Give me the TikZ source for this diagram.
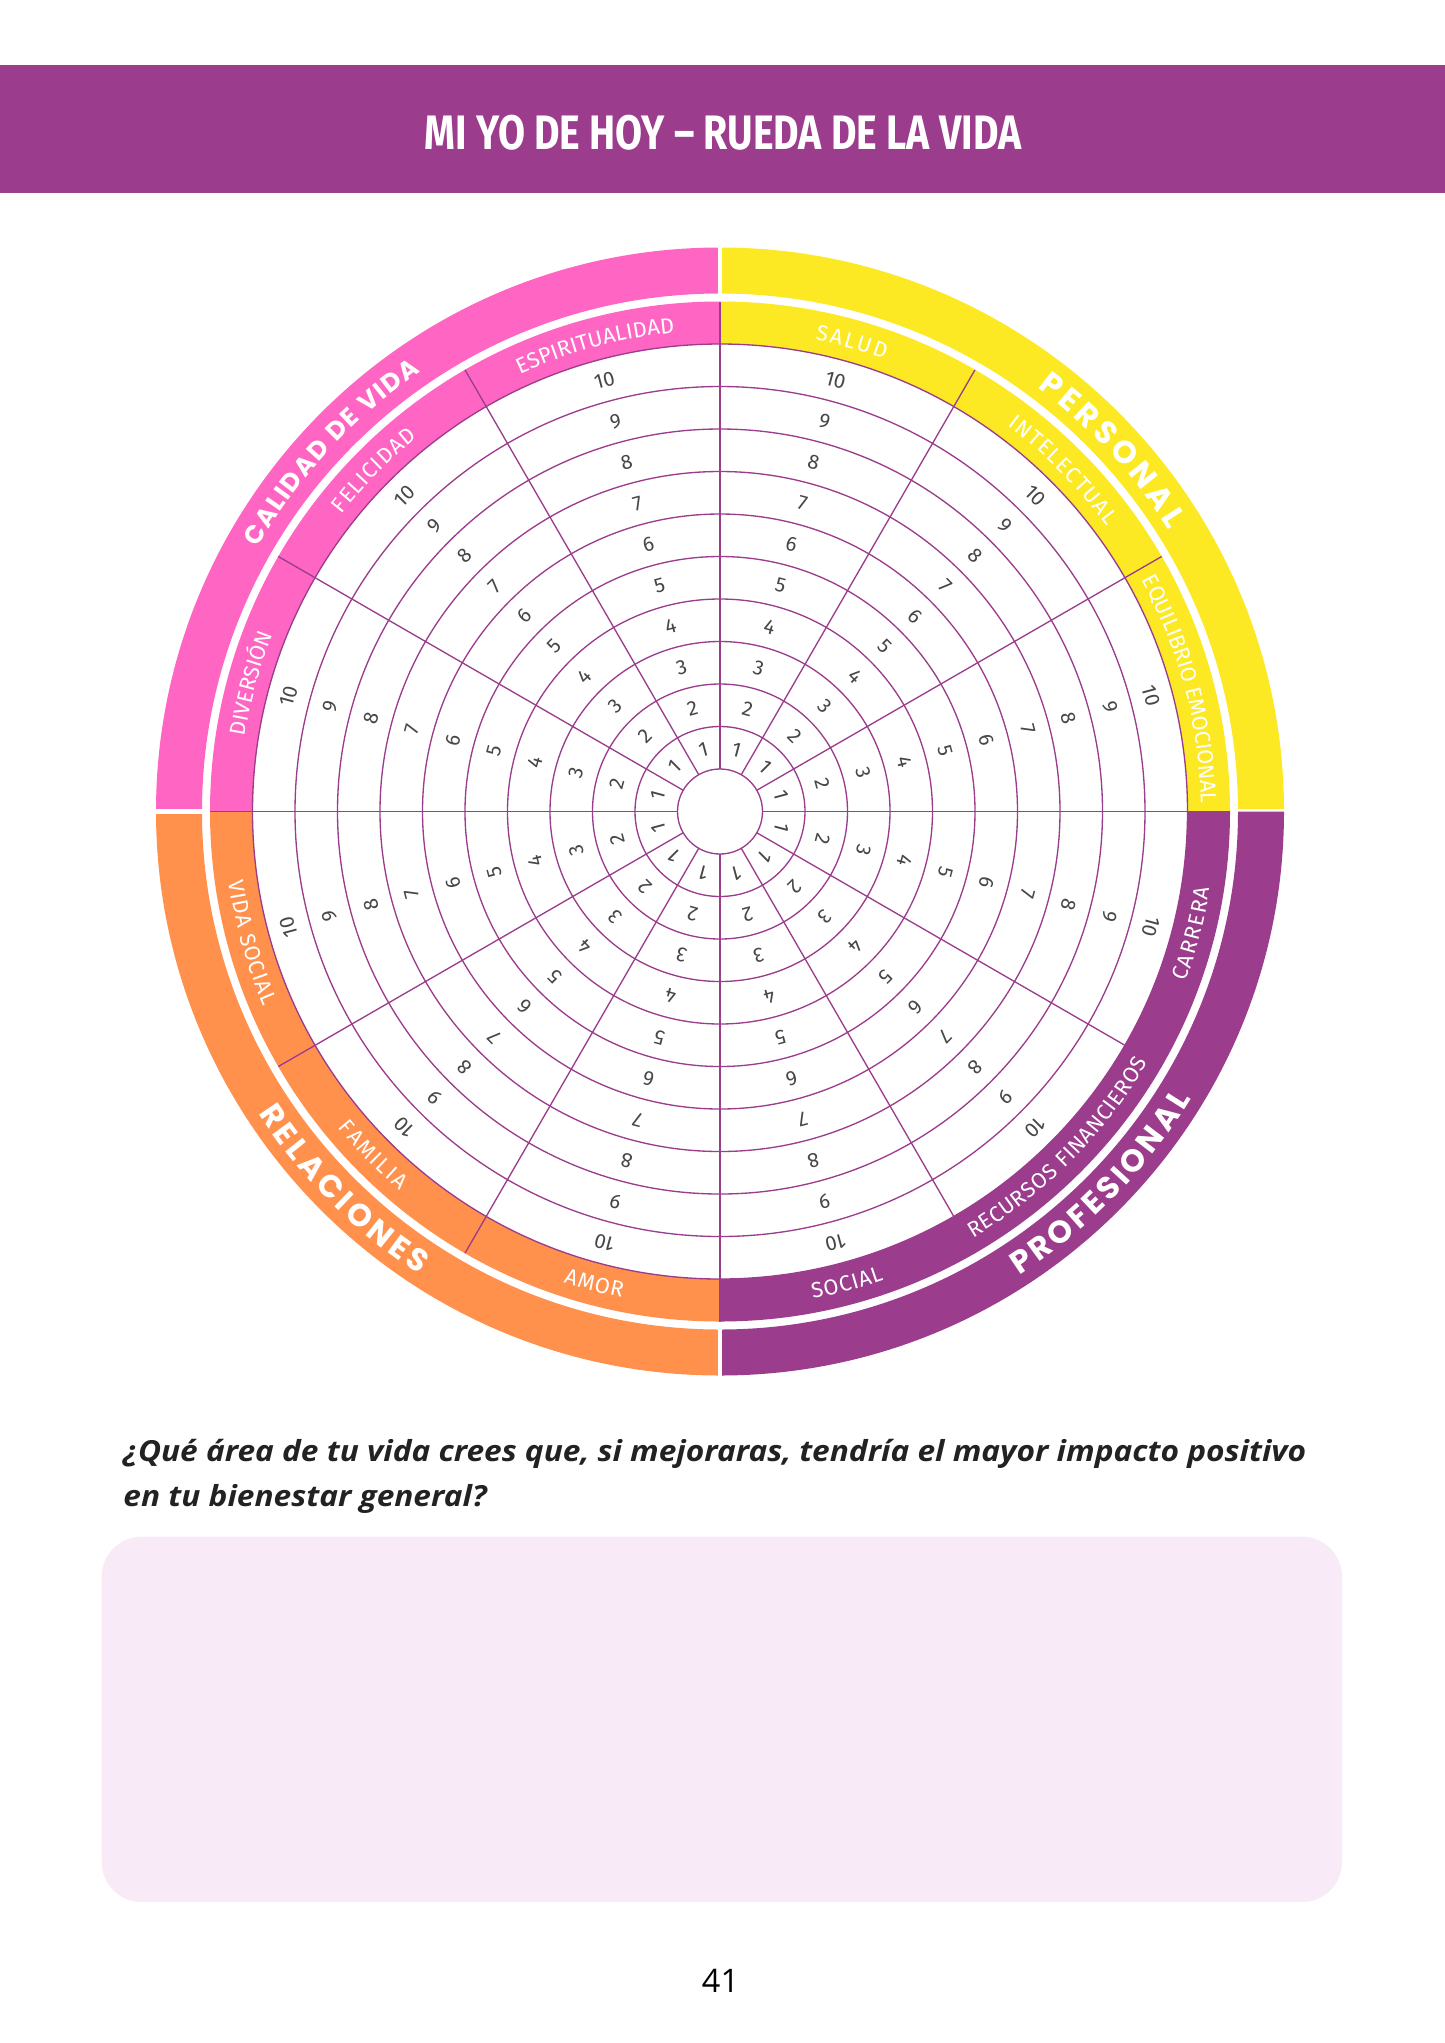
\documentclass[tikz,border=0pt]{standalone}
\usepackage{fontspec}
\usepackage{tikz}
\usetikzlibrary{calc, decorations.text}
\setmainfont{Open Sans}
\newfontfamily\titlefont[FakeStretch=0.81]{Fira Sans}
\newfontfamily\questionfont[FakeStretch=1.09]{Open Sans}
\newfontfamily\numfont{Fira Sans}
\newfontfamily\lblfont{Fira Sans}
\newfontfamily\bandfont{Poppins}
\definecolor{wheelpurple}{HTML}{9B3C8C}
\definecolor{wheelpink}{HTML}{FF66C4}
\definecolor{wheelyellow}{HTML}{FCE923}
\definecolor{wheelorange}{HTML}{FF914D}
\definecolor{notebg}{HTML}{F9EAF8}
\definecolor{numgray}{HTML}{474747}
\definecolor{inkblack}{HTML}{222222}
\newcommand{\lblsize}{\lblfont\fontsize{9}{10}\selectfont}
\newcommand{\bandsize}{\bandfont\bfseries\fontsize{13}{14}\selectfont}
\newcommand{\bandsmallsize}{\bandfont\bfseries\fontsize{10.5}{12}\selectfont}
% text spread along an arc round the wheel centre: font, start, end, radius, text
\newcommand{\arclabel}[5]{%
  \path[decorate, decoration={text along path, text={|#1|#5}, text align=fit to path, text color=white}]
    (c) ++(#2:#4) arc[start angle=#2, end angle=#3, radius=#4];}

\begin{document}
\begin{tikzpicture}[
    x=0.0145329cm, y=0.0145329cm,
    ring/.style={draw=wheelpurple, line width=0.55pt},
    num/.style={font=\numfont\fontsize{8.5}{9}\selectfont, text=numgray, inner sep=0pt},
    question/.style={font=\questionfont\bfseries\itshape\fontsize{12}{14}\selectfont, text=inkblack, anchor=base west, inner sep=0pt}
]
\useasboundingbox (0,0) rectangle (1445,-2043);
\fill[white] (0,0) rectangle (1445,-2043);

% Header bar
\fill[wheelpurple] (0,-65) rectangle (1445,-193);
\node[font=\titlefont\bfseries\fontsize{20}{24}\selectfont, text=white, anchor=base, inner sep=0pt] (title) at (723,-149) {MI YO DE HOY – RUEDA DE LA VIDA};

% Wheel centre
\coordinate (c) at (720,-811.5);

% Inner and outer coloured bands
\foreach \a/\col in {0/wheelyellow, 90/wheelpink, 180/wheelorange, 270/wheelpurple} {
  \fill[\col] (c) ++(\a:467.5) arc[start angle=\a, delta angle=90, radius=467.5]
    -- ($(c)+({\a+90}:510)$) arc[start angle={\a+90}, delta angle=-90, radius=510] -- cycle;
  \fill[\col] (c) ++(\a:518) arc[start angle=\a, delta angle=90, radius=518]
    -- ($(c)+({\a+90}:564)$) arc[start angle={\a+90}, delta angle=-90, radius=564] -- cycle;
  \draw[white, line width=2pt] (c) ++(\a:512) -- ++(\a:56);
}

% Rings and spokes
\foreach \n in {1,...,11}
  \draw[ring] (c) circle[radius={42.5*\n}];
\foreach \a in {0,30,...,330}
  \draw[ring] (c) ++(\a:42.5) -- ++(\a:467.5);

% Scores 1 to 10 in every area
\foreach \s in {0,...,11} {
  \foreach \k in {1,...,10} {
    \node[num, rotate={30*\s-75}] (n\s-\k) at ($(c)+({30*\s+15}:{42.5*\k+21.25})$) {\k};
  }
}

% Area labels
\arclabel{\lblsize}{28.8}{1.3}{481}{EQUILIBRIO EMOCIONAL}
\arclabel{\lblsize}{53.3}{36.4}{481}{INTELECTUAL}
\arclabel{\lblsize}{78.6}{70.0}{481}{SALUD}
\arclabel{\lblsize}{114.6}{95.4}{481}{ESPIRITUALIDAD}
\arclabel{\lblsize}{141.8}{129.0}{481}{FELICIDAD}
\arclabel{\lblsize}{171.0}{158.9}{481}{DIVERSIÓN}
\arclabel{\lblsize}{188.1}{203.1}{496}{VIDA SOCIAL}
\arclabel{\lblsize}{219.6}{229.8}{496}{FAMILIA}
\arclabel{\lblsize}{251.6}{258.6}{496}{AMOR}
\arclabel{\lblsize}{280.8}{289.3}{496}{SOCIAL}
\arclabel{\lblsize}{300.7}{329.6}{496}{RECURSOS FINANCIEROS}
\arclabel{\lblsize}{339.9}{351.1}{496}{CARRERA}

% Quadrant labels
\arclabel{\bandsize}{53.2}{32.1}{530}{PERSONAL}
\arclabel{\bandsmallsize}{150.3}{124.2}{532}{CALIDAD DE VIDA}
\arclabel{\bandsize}{213.2}{237.0}{552}{RELACIONES}
\arclabel{\bandsize}{302.8}{328.6}{552}{PROFESIONAL}

% Question
\node[question] (q1) at (123,-1461.7) {¿Qué área de tu vida crees que, si mejoraras, tendría el mayor impacto positivo};
\node[question] (q2) at (123,-1506) {en tu bienestar general?};

% Answer box
\fill[notebg, rounded corners=16.5pt] (101.7,-1536.7) rectangle (1342,-1902);

% Page number
\node[font=\fontsize{13.4}{16}\selectfont, anchor=base, inner sep=0pt] (page) at (720.5,-1992.7) {41};

\end{tikzpicture}
\end{document}
